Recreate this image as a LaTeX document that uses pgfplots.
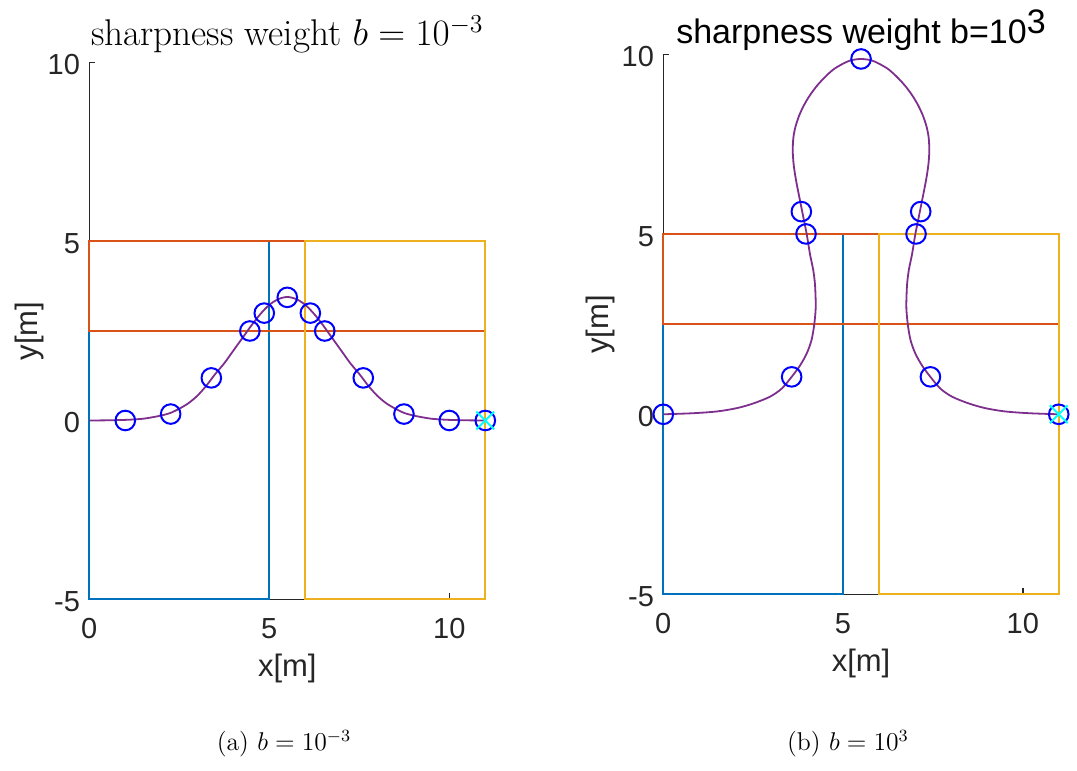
\documentclass[border=0pt]{standalone}
\usepackage{fontspec}
\usepackage{graphicx}
\newfontfamily\helv{Liberation Sans}
\usepackage{pgfplots}
\pgfplotsset{compat=1.18}
\definecolor{mblue}{HTML}{0072BD}
\definecolor{morange}{HTML}{D95319}
\definecolor{myellow}{HTML}{EDB120}
\definecolor{mpurple}{HTML}{7E2F8E}
\definecolor{axgray}{HTML}{262626}
\definecolor{mkblue}{RGB}{0,0,255}
\definecolor{mkcyan}{RGB}{0,255,255}

\pgfplotsset{
  matfig/.style={
    anchor=south west,
    axis x line=bottom, axis y line=left,
    axis line style={-, draw=axgray, line width=0.75pt},
    xmin=0, xmax=11, ymin=-5, ymax=10,
    xtick={0,5,10}, xticklabels={0,5,10},
    ytick={-5,0,5,10}, yticklabels={-5,0,5,10},
    tick align=inside,
    major tick length=3pt,
    tick style={draw=axgray, line width=0.75pt},
    tick label style={font=\helv\fontsize{14.5}{16}\selectfont, text=axgray},
    xticklabel style={anchor=base, inner sep=0pt, yshift=-19.4pt},
    yticklabel style={anchor=east, inner sep=0pt, xshift=-4.5pt, yshift=-1.2pt},
    clip=false,
  },
  box/.style={line width=1pt, line cap=rect, line join=miter},
}

\begin{document}
\begin{tikzpicture}
\useasboundingbox (0,0) rectangle (538.5pt,385.5pt);

% (a) b = 1e-3
\begin{axis}[matfig, at={(44.65pt,85.75pt)}, x=18pt, y=17.9pt]
\addplot[box, mblue]   coordinates {(0,-5) (5,-5) (5,5) (0,5) (0,-5)};
\addplot[box, morange] coordinates {(0,2.5) (11,2.5) (11,5) (0,5) (0,2.5)};
\addplot[box, myellow] coordinates {(6,-5) (11,-5) (11,5) (6,5) (6,-5)};
\addplot[mpurple, line width=0.9pt, smooth, tension=0.5] coordinates {
  (0,0) (0.5,0.005) (1,0.017) (1.25,0.03) (1.5,0.05) (1.75,0.09)
  (2,0.14) (2.25,0.21) (2.5,0.33) (2.75,0.48) (3,0.69) (3.25,0.97)
  (3.5,1.30) (3.75,1.60) (4,1.95) (4.25,2.30) (4.5,2.65) (4.75,2.97)
  (5,3.23) (5.25,3.39) (5.5,3.45) (5.75,3.39) (6,3.23) (6.25,2.97)
  (6.5,2.65) (6.75,2.30) (7,1.95) (7.25,1.60) (7.5,1.30) (7.75,0.97)
  (8,0.69) (8.25,0.48) (8.5,0.33) (8.75,0.21) (9,0.14) (9.25,0.09)
  (9.5,0.05) (9.75,0.03) (10,0.017) (10.5,0.005) (11,0)};
\addplot[only marks, mark=o, mark size=4.9pt, mkblue, line width=1pt] coordinates {
  (1,0) (2.26,0.18) (3.39,1.19) (4.46,2.5) (4.86,3.0) (5.5,3.44)
  (6.14,3.0) (6.54,2.5) (7.61,1.19) (8.74,0.18) (10,0) (11,0)};
\addplot[only marks, mark=x, mark size=6.3pt, mkcyan, line width=1pt] coordinates {(11,0)};
\node[anchor=base] at ([yshift=8.3pt]rel axis cs:0.5,1)
  {\scalebox{1.077}{\LARGE sharpness weight $b = 10^{-3}$}};
\node[anchor=base, inner sep=0pt, font=\helv\fontsize{15.5}{18}\selectfont, text=axgray]
  at ([yshift=-38.6pt]rel axis cs:0.5,0) {x[m]};
\node[anchor=base, rotate=90, inner sep=0pt, font=\helv\fontsize{15.5}{18}\selectfont, text=axgray]
  at ([xshift=-26pt]rel axis cs:0,0.5) {y[m]};
\end{axis}

% (b) b = 1e3
\begin{axis}[matfig, at={(331.65pt,88.35pt)}, x=17.975pt, y=18pt]
\addplot[box, mblue]   coordinates {(0,-5) (5,-5) (5,5) (0,5) (0,-5)};
\addplot[box, morange] coordinates {(0,2.5) (11,2.5) (11,5) (0,5) (0,2.5)};
\addplot[box, myellow] coordinates {(6,-5) (11,-5) (11,5) (6,5) (6,-5)};
\addplot[mpurple, line width=0.9pt, smooth, tension=0.5] coordinates {
  (0,0) (0.83,0.03) (1.5,0.08) (2.04,0.17) (2.5,0.3) (2.97,0.49)
  (3.3,0.72) (3.57,1.04) (3.8,1.35) (3.99,1.69) (4.12,2.05) (4.19,2.43)
  (4.23,2.8) (4.24,3.08) (4.22,3.6) (4.17,4.01) (4.08,4.45) (3.99,5.0)
  (3.90,5.45) (3.80,5.95) (3.72,6.35) (3.66,6.69) (3.62,7.0) (3.60,7.34)
  (3.62,7.7) (3.68,8.0) (3.78,8.3) (3.91,8.58) (4.07,8.85) (4.27,9.12)
  (4.5,9.37) (4.76,9.6) (5.1,9.79) (5.3,9.85) (5.5,9.87)
  (5.7,9.85) (5.9,9.79) (6.24,9.6) (6.5,9.37) (6.73,9.12) (6.93,8.85)
  (7.09,8.58) (7.22,8.3) (7.32,8.0) (7.38,7.7) (7.40,7.34)
  (7.38,7.0) (7.34,6.69) (7.28,6.35) (7.20,5.95) (7.10,5.45) (7.01,5.0)
  (6.92,4.45) (6.83,4.01) (6.78,3.6) (6.76,3.08) (6.77,2.8) (6.81,2.43)
  (6.88,2.05) (7.01,1.69) (7.2,1.35) (7.43,1.04) (7.7,0.72) (8.03,0.49)
  (8.5,0.3) (8.96,0.17) (9.5,0.08) (10.17,0.03) (11,0)};
\addplot[only marks, mark=o, mark size=4.9pt, mkblue, line width=1pt] coordinates {
  (0,0) (3.57,1.04) (3.97,5.01) (3.84,5.63) (5.5,9.87)
  (7.16,5.63) (7.03,5.01) (7.43,1.04) (11,0)};
\addplot[only marks, mark=x, mark size=6.3pt, mkcyan, line width=1pt] coordinates {(11,0)};
\node[anchor=base, font=\helv\fontsize{17}{20}\selectfont]
  at ([yshift=5.6pt]rel axis cs:0.5,1) {sharpness weight b=10\raisebox{5pt}{3}};
\node[anchor=base, inner sep=0pt, font=\helv\fontsize{15.5}{18}\selectfont, text=axgray]
  at ([yshift=-38.6pt]rel axis cs:0.5,0) {x[m]};
\node[anchor=base, rotate=90, inner sep=0pt, font=\helv\fontsize{15.5}{18}\selectfont, text=axgray]
  at ([xshift=-27.5pt]rel axis cs:0,0.5) {y[m]};
\end{axis}

\node[anchor=base] at (142pt,10pt) {\scalebox{1.07}{\large (a) $b = 10^{-3}$}};
\node[anchor=base] at (424pt,10pt) {\scalebox{1.07}{\large (b) $b = 10^{3}$}};
\end{tikzpicture}
\end{document}
